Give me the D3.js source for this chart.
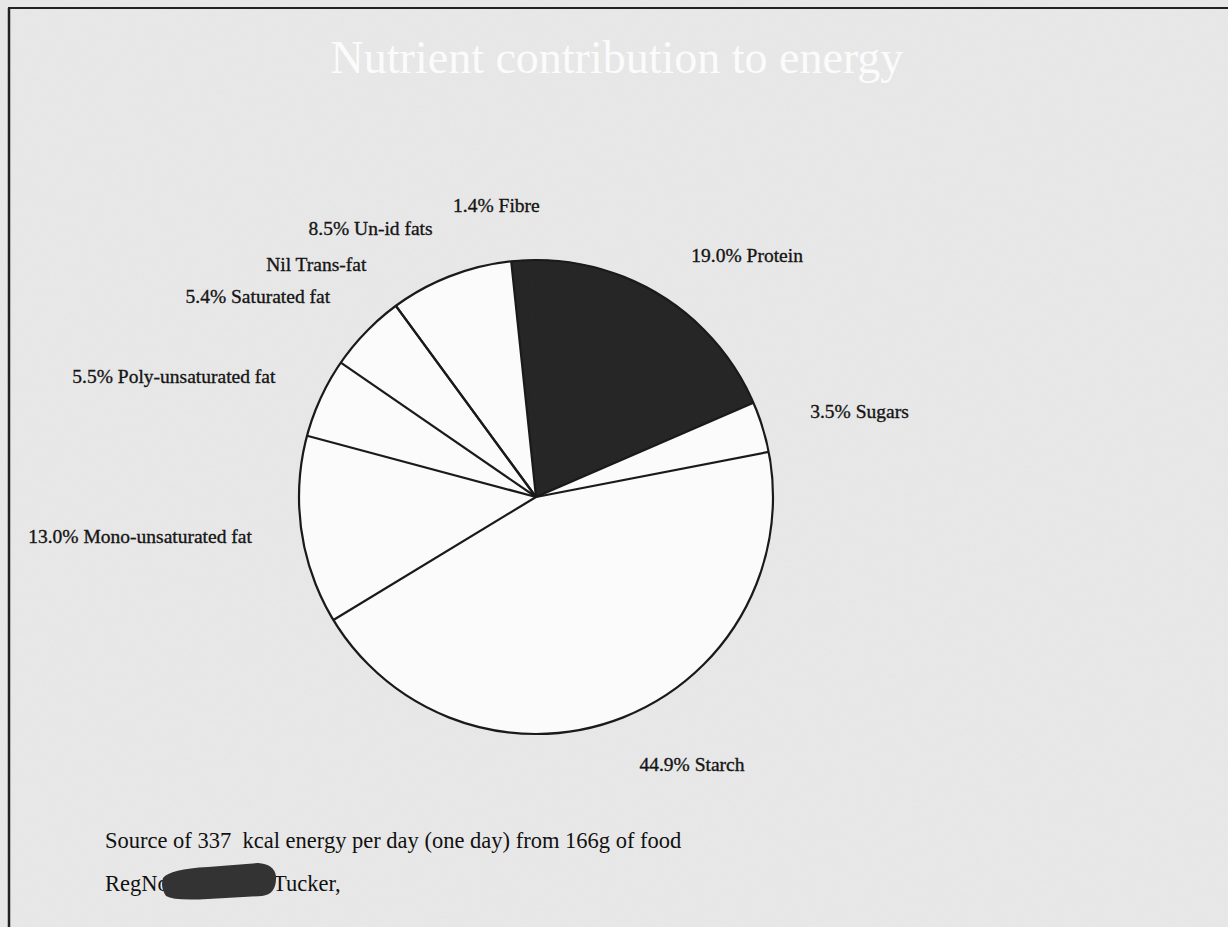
<!DOCTYPE html>
<html>
<head>
<meta charset="utf-8">
<script src="https://cdn.jsdelivr.net/npm/d3@7"></script>
<style>
  html, body { margin: 0; padding: 0; background: #e9e9e9; }
  svg { display: block; }
</style>
</head>
<body>
<svg id="chart" width="1228" height="927"></svg>
<script>
// ---- data ----
const categories = ["Fibre", "Protein", "Sugars", "Starch", "Mono-unsaturated fat",
                    "Poly-unsaturated fat", "Saturated fat", "Trans-fat", "Un-id fats"];
const percents   = [1.4, 19.0, 3.5, 44.9, 13.0, 5.5, 5.4, 0, 8.5];
const labelTexts = ["1.4% Fibre", "19.0% Protein", "3.5% Sugars", "44.9% Starch",
                    "13.0% Mono-unsaturated fat", "5.5% Poly-unsaturated fat",
                    "5.4% Saturated fat", "Nil Trans-fat", "8.5% Un-id fats"];
const darkSlices = ["Fibre", "Protein"];
const titleText = "Nutrient contribution to energy";
const footLine1 = "Source of 337  kcal energy per day (one day) from 166g of food";
const footLine2a = "RegNo";
const footLine2b = "Tucker,";

// ---- layout ----
const W = 1228, H = 927;
const cx = 536, cy = 497, R = 237, labelR = 287;
const startDeg = -6;
const serif = "'Liberation Serif', 'Times New Roman', serif";

const svg = d3.select("#chart");

// background with subtle paper texture
const defs = svg.append("defs");
const f = defs.append("filter").attr("id", "grain").attr("x", 0).attr("y", 0).attr("width", "100%").attr("height", "100%");
f.append("feTurbulence").attr("type", "fractalNoise").attr("baseFrequency", "0.9 0.35").attr("numOctaves", 2).attr("seed", 3).attr("result", "n");
f.append("feColorMatrix").attr("in", "n").attr("type", "matrix")
  .attr("values", "0 0 0 0 0.55  0 0 0 0 0.55  0 0 0 0 0.55  0 0 0 0.14 0");
svg.append("rect").attr("width", W).attr("height", H).attr("fill", "#e9e9e9");
svg.append("rect").attr("width", W).attr("height", H).attr("filter", "url(#grain)").attr("opacity", 0.7);

// frame (top and left edges visible)
svg.append("line").attr("x1", 8).attr("y1", 8).attr("x2", W).attr("y2", 8)
  .attr("stroke", "#222").attr("stroke-width", 2);
svg.append("line").attr("x1", 9).attr("y1", 8).attr("x2", 9).attr("y2", H)
  .attr("stroke", "#222").attr("stroke-width", 2.5);

// title
svg.append("text").attr("x", 617).attr("y", 73)
  .attr("text-anchor", "middle")
  .attr("font-family", serif).attr("font-size", 46)
  .attr("fill", "#fbfbfb")
  .text(titleText);

// pie
const data = categories.map((c, i) => ({ name: c, value: percents[i], label: labelTexts[i] }));
const toRad = d => d * Math.PI / 180;
const pie = d3.pie().sort(null).value(d => d.value)
  .startAngle(toRad(startDeg)).endAngle(toRad(startDeg) + 2 * Math.PI);
const arcs = pie(data);
const arc = d3.arc().innerRadius(0).outerRadius(R);
const labelArc = d3.arc().innerRadius(labelR).outerRadius(labelR);

const g = svg.append("g").attr("transform", `translate(${cx},${cy})`);
g.selectAll("path.slice").data(arcs).join("path")
  .attr("class", "slice")
  .attr("d", arc)
  .attr("fill", d => darkSlices.includes(d.data.name) ? "#262626" : "#fbfbfb")
  .attr("stroke", d => darkSlices.includes(d.data.name) ? "#262626" : "none");

// boundary lines between slices and outline
g.selectAll("line.sep").data(arcs.filter(d => d.data.name !== "Protein")).join("line")
  .attr("class", "sep")
  .attr("x1", 0).attr("y1", 0)
  .attr("x2", d => R * Math.sin(d.startAngle))
  .attr("y2", d => -R * Math.cos(d.startAngle))
  .attr("stroke", "#1a1a1a").attr("stroke-width", 2.2);
g.append("circle").attr("r", R).attr("fill", "none").attr("stroke", "#1a1a1a").attr("stroke-width", 2.2);

// labels
g.selectAll("text.lbl").data(arcs).join("text")
  .attr("class", "lbl")
  .attr("x", d => labelArc.centroid(d)[0] + (d.data.name === "Fibre" ? -22 : 0))
  .attr("y", d => labelArc.centroid(d)[1] + (d.data.name === "Fibre" ? -4 : 0))
  .attr("dy", "0.3em")
  .attr("text-anchor", d => {
    const a = (d.startAngle + d.endAngle) / 2;
    const s = Math.sin(a);
    return s > 0.12 ? "start" : (s < -0.12 ? "end" : "middle");
  })
  .attr("font-family", serif).attr("font-size", 19.5)
  .attr("fill", "#151515")
  .attr("stroke", "#151515").attr("stroke-width", 0.35)
  .text(d => d.data.label);

// footer
svg.append("text").attr("x", 105).attr("y", 848)
  .attr("font-family", serif).attr("font-size", 22.5).attr("fill", "#111")
  .style("white-space", "pre")
  .text(footLine1);
svg.append("text").attr("x", 105).attr("y", 891)
  .attr("font-family", serif).attr("font-size", 22.5).attr("fill", "#111")
  .text(footLine2a);
svg.append("text").attr("x", 273).attr("y", 891)
  .attr("font-family", serif).attr("font-size", 22.5).attr("fill", "#111")
  .text(footLine2b);
// redaction blob
svg.append("path")
  .attr("d", "M163,878 Q170,869 208,867 L258,863 Q274,864 276,876 Q277,894 262,896 L208,899 Q174,901 166,896 Q160,887 163,878 Z")
  .attr("fill", "#333");
</script>
</body>
</html>
